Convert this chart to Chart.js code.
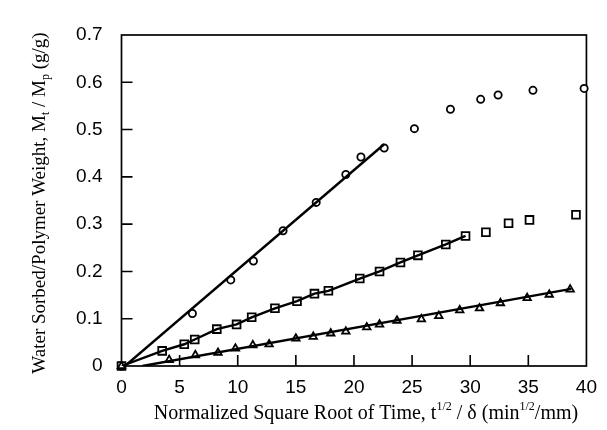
<!DOCTYPE html>
<html>
<head>
<meta charset="utf-8">
<script src="https://cdn.jsdelivr.net/npm/chart.js@4"></script>
<style>
  html, body { margin: 0; padding: 0; background: #fff; }
  #wrap { width: 607px; height: 430px; }
</style>
</head>
<body>
<div id="wrap"><canvas id="sorption"></canvas></div>
<script>
// values
const circX = [0, 6.1, 9.4, 11.35, 13.9, 16.75, 19.3, 20.6, 22.6, 25.2, 28.3, 30.9, 32.4, 35.4, 39.8];
const circY = [0, 0.111, 0.182, 0.222, 0.286, 0.346, 0.405, 0.442, 0.461, 0.502, 0.543, 0.564, 0.573, 0.583, 0.587];
const circDotCount = 9; // first points carry a centre dot

const sqX = [0, 3.5, 5.4, 6.3, 8.2, 9.9, 11.2, 13.2, 15.1, 16.6, 17.8, 20.5, 22.2, 24.0, 25.5, 27.9, 29.6, 31.35, 33.3, 35.1, 39.1];
const sqY = [0, 0.032, 0.046, 0.056, 0.078, 0.088, 0.103, 0.122, 0.137, 0.153, 0.159, 0.185, 0.200, 0.219, 0.234, 0.257, 0.275, 0.283, 0.302, 0.309, 0.320];
const sqLineCount = 17;

const triX = [0, 4.1, 6.35, 8.3, 9.8, 11.3, 12.7, 15.0, 16.5, 18.0, 19.3, 21.1, 22.2, 23.7, 25.8, 27.3, 29.1, 30.8, 32.6, 34.9, 36.8, 38.6];
const triY = [0, 0.013, 0.023, 0.028, 0.037, 0.044, 0.046, 0.058, 0.062, 0.069, 0.073, 0.082, 0.088, 0.096, 0.099, 0.106, 0.118, 0.122, 0.133, 0.144, 0.151, 0.162];

const circFitX = [0.3, 22.6];
const circFitY = [0, 0.469];
const triFitX = [1.8, 38.7];
const triFitY = [0, 0.163];

const xTicks = [0, 5, 10, 15, 20, 25, 30, 35, 40];
const yTicks = [0, 0.1, 0.2, 0.3, 0.4, 0.5, 0.6, 0.7];

const xTitle = [{t: 'Normalized Square Root of Time, t'}, {t: '1/2', s: 'sup'}, {t: ' / \u03b4 (min'}, {t: '1/2', s: 'sup'}, {t: '/mm)'}];
const yTitle = [{t: 'Water Sorbed/Polymer Weight, M'}, {t: 't', s: 'sub'}, {t: ' / M'}, {t: 'p', s: 'sub'}, {t: ' (g/g)'}];

function pts(xs, ys, n) {
    const out = [];
    for (let i = 0; i < (n || xs.length); i++) out.push({x: xs[i], y: ys[i]});
    return out;
}

function drawRich(ctx, segs, cx, cy, rot, size) {
    const big = size + 'px "Liberation Serif", "Times New Roman", serif';
    const small = Math.round(size * 0.62) + 'px "Liberation Serif", "Times New Roman", serif';
    let w = 0;
    segs.forEach(s => { ctx.font = s.s ? small : big; w += ctx.measureText(s.t).width; });
    ctx.save();
    ctx.translate(cx, cy);
    if (rot) ctx.rotate(-Math.PI / 2);
    ctx.fillStyle = '#000';
    ctx.textBaseline = 'middle';
    ctx.textAlign = 'left';
    let x = -w / 2;
    segs.forEach(s => {
        ctx.font = s.s ? small : big;
        const dy = s.s === 'sup' ? -size * 0.36 : s.s === 'sub' ? size * 0.3 : 0;
        ctx.fillText(s.t, x, dy);
        x += ctx.measureText(s.t).width;
    });
    ctx.restore();
}

const framePlugin = {
    id: 'frame',
    beforeDatasetsDraw(chart) {
        const {ctx, chartArea: a, scales} = chart;
        ctx.save();
        ctx.strokeStyle = '#000';
        ctx.lineWidth = 1.7;
        ctx.strokeRect(a.left, a.top, a.right - a.left, a.bottom - a.top);
        ctx.lineWidth = 1.6;
        ctx.beginPath();
        xTicks.slice(1, -1).forEach(v => {
            const px = scales.x.getPixelForValue(v);
            ctx.moveTo(px, a.bottom);
            ctx.lineTo(px, a.bottom - 11);
        });
        yTicks.slice(1, -1).forEach(v => {
            const py = scales.y.getPixelForValue(v);
            ctx.moveTo(a.left, py);
            ctx.lineTo(a.left + 11, py);
        });
        ctx.stroke();
        ctx.restore();
    },
    afterDraw(chart) {
        const {ctx} = chart;
        drawRich(ctx, xTitle, 366, 414, false, 20);
        drawRich(ctx, yTitle, 40, 203, true, 19);
    }
};

const lineStyle = {showLine: true, pointRadius: 0, borderColor: '#000', borderWidth: 2.4, fill: false};
const markStyle = {showLine: false, borderColor: '#000', pointBorderWidth: 1.8, pointBackgroundColor: '#fff', clip: false};

new Chart(document.getElementById('sorption'), {
    type: 'scatter',
    data: {
        datasets: [
            {...lineStyle, data: pts(circFitX, circFitY)},
            {...lineStyle, data: pts(sqX, sqY, sqLineCount)},
            {...lineStyle, data: pts(triFitX, triFitY)},
            {...markStyle, data: pts(triX, triY), pointStyle: 'triangle', pointRadius: 4.3},
            {...markStyle, data: pts(sqX, sqY), pointStyle: 'rect', pointRadius: 5.5},
            {...markStyle, data: pts(circX, circY), pointStyle: 'circle', pointRadius: 3.6},
            {showLine: false, data: pts(circX, circY, circDotCount).slice(1), pointStyle: 'circle', pointRadius: 0.9,
             pointBorderWidth: 0, pointBackgroundColor: '#000', clip: false}
        ]
    },
    options: {
        responsive: true,
        maintainAspectRatio: false,
        animation: false,
        events: [],
        layout: {padding: {left: 0, right: 13, top: 35, bottom: 0}},
        plugins: {legend: {display: false}, tooltip: {enabled: false}},
        scales: {
            x: {
                type: 'linear', min: 0, max: 40,
                grid: {display: false, drawTicks: false},
                border: {display: false},
                afterFit: s => { s.height = 64; },
                afterBuildTicks: s => { s.ticks = xTicks.map(v => ({value: v})); },
                ticks: {
                    color: '#000', padding: 10,
                    font: {family: '"Liberation Sans", Arial, sans-serif', size: 19},
                    callback: v => String(v)
                }
            },
            y: {
                type: 'linear', min: 0, max: 0.7,
                grid: {display: false, drawTicks: false},
                border: {display: false},
                afterFit: s => { s.width = 121.5; },
                afterBuildTicks: s => { s.ticks = yTicks.map(v => ({value: v})); },
                ticks: {
                    color: '#000', padding: 19,
                    font: {family: '"Liberation Sans", Arial, sans-serif', size: 19},
                    callback: v => v === 0 ? '0' : v.toFixed(1)
                }
            }
        }
    },
    plugins: [framePlugin]
});
</script>
</body>
</html>
